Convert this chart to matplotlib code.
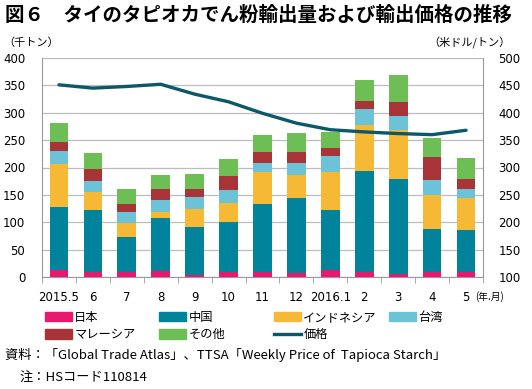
import matplotlib.pyplot as plt
import numpy as np
from matplotlib.patches import Patch
from matplotlib.lines import Line2D

plt.rcParams['font.family'] = ['DejaVu Sans', 'Noto Sans CJK JP']
jp = ['Noto Sans CJK JP', 'DejaVu Sans']

# data
months = ['2015.5', '6', '7', '8', '9', '10', '11', '12', '2016.1', '2', '3', '4', '5']
japan = [12, 9, 10, 11, 4, 9, 10, 8, 13, 10, 5, 10, 10]
china = [116, 114, 63, 96, 87, 92, 123, 136, 109, 184, 174, 78, 75]
indonesia = [79, 33, 26, 11, 33, 34, 58, 43, 69, 84, 89, 62, 60]
taiwan = [24, 19, 20, 23, 22, 23, 17, 21, 30, 28, 26, 27, 16]
malaysia = [16, 23, 14, 19, 14, 27, 20, 20, 14, 16, 26, 42, 18]
other = [34, 28, 27, 26, 28, 31, 31, 35, 30, 37, 49, 35, 39]
price = [451, 445, 448, 452, 434, 420, 399, 381, 369, 365, 362, 360, 368]

series = [
    ('日本', japan, '#e8186e'),
    ('中国', china, '#00839b'),
    ('インドネシア', indonesia, '#f6b935'),
    ('台湾', taiwan, '#6cc3d7'),
    ('マレーシア', malaysia, '#a93437'),
    ('その他', other, '#6cbe55'),
]
line_color = '#0b5868'

fig = plt.figure(figsize=(5.32, 3.89), dpi=100)
ax = fig.add_axes([42 / 532, 1 - 277 / 389, 441 / 532, 219 / 389])
x = np.arange(len(months))

bottom = np.zeros(len(months))
for name, vals, col in series:
    ax.bar(x, vals, 0.55, bottom=bottom, color=col, zorder=3)
    bottom += np.array(vals)

ax.set_xlim(-0.5, len(months) - 0.5)
ax.set_ylim(0, 400)
ax.set_yticks(range(0, 401, 50))
ax.grid(axis='y', color='#bdbdbd', lw=0.9, zorder=0)
ax.set_xticks(x)
ax.set_xticklabels(months)
ax.set_xticks(np.arange(-0.5, len(months), 1), minor=True)
ax.tick_params(axis='x', which='major', length=0, pad=10, labelsize=8.5)
ax.tick_params(axis='x', which='minor', length=4, color='#999999', direction='out')
ax.tick_params(axis='y', length=0, pad=12, labelsize=8.5)
for s in ['top', 'right']:
    ax.spines[s].set_visible(False)
ax.spines['left'].set_color('#999999')
ax.spines['bottom'].set_color('#999999')

ax2 = ax.twinx()
ax2.plot(x, price, color=line_color, lw=2.4, solid_joinstyle='round', solid_capstyle='round', zorder=5)
ax2.set_ylim(100, 500)
ax2.set_yticks(range(100, 501, 50))
ax2.tick_params(axis='y', length=0, pad=11, labelsize=8.5)
for s in ['top', 'left', 'bottom']:
    ax2.spines[s].set_visible(False)
ax2.spines['right'].set_color('#999999')

# titles and units
fig.text(5 / 532, 1 - 15 / 389, '図６　タイのタピオカでん粉輸出量および輸出価格の推移',
         fontsize=14, fontweight='bold', family=jp, va='center', ha='left')
fig.text(3 / 532, 1 - 43 / 389, '（千トン）', fontsize=8, family=jp, va='center', ha='left')
fig.text(511 / 532, 1 - 43 / 389, '（米ドル/トン）', fontsize=8, family=jp, va='center', ha='right')
fig.text(475 / 532, 1 - 297 / 389, '(年.月)', fontsize=7, family=jp, va='center', ha='left')

# legend, one column at a time
cols = [
    [series[0], series[4]],
    [series[1], series[5]],
    [series[2], None],
    [series[3]],
]
col_x = [45, 159, 274, 389]
for cx, entries in zip(col_x, cols):
    handles = []
    for e in entries:
        if e is None:
            handles.append(Line2D([], [], color=line_color, lw=2.4, label='価格'))
        else:
            handles.append(Patch(color=e[2], label=e[0]))
    fig.legend(handles=handles, loc='upper left', bbox_to_anchor=(cx / 532, 1 - 311 / 389),
               frameon=False, prop={'family': jp, 'size': 8.8}, handlelength=2.2,
               handleheight=0.8, handletextpad=0.2, labelspacing=0.35,
               borderpad=0, borderaxespad=0)

fig.text(5 / 532, 1 - 355 / 389, '資料：「Global Trade Atlas」、TTSA「Weekly Price of  Tapioca Starch」',
         fontsize=9.5, family=jp, va='center', ha='left')
fig.text(20 / 532, 1 - 378 / 389, '注：HSコード110814', fontsize=9.5, family=jp, va='center', ha='left')

fig.savefig('out.png', dpi=100)
